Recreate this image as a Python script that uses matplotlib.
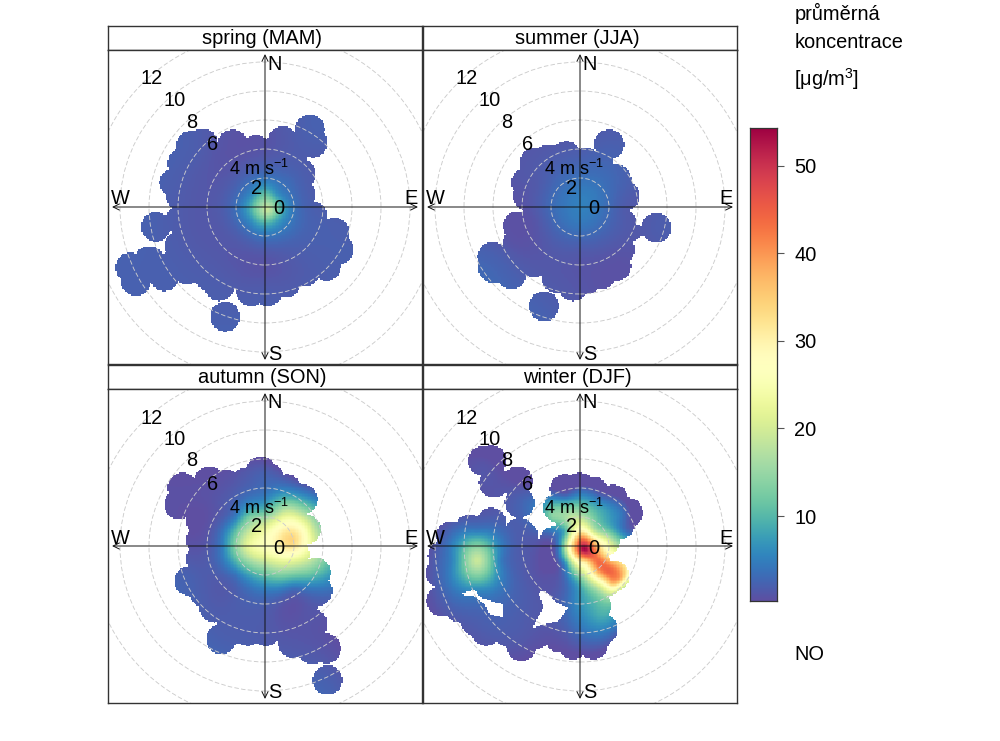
import numpy as np
import matplotlib
matplotlib.use("Agg")
import matplotlib.pyplot as plt
from matplotlib.path import Path
from matplotlib.colors import ListedColormap, Normalize
from matplotlib.patches import Circle

plt.rcParams['font.family'] = ['Liberation Sans', 'DejaVu Sans']
plt.rcParams['mathtext.default'] = 'regular'

# ---------- data (wind components in m/s, concentration in ug/m3) ----------
panel_titles = ["spring (MAM)", "summer (JJA)", "autumn (SON)", "winter (DJF)"]
ring_speeds = [2, 4, 6, 8, 10, 12]
ring_labels = ["2", "4 m s$^{-1}$", "6", "8", "10", "12"]
bar_ticks = [10, 20, 30, 40, 50]
value_min, value_max = 0.3, 54.3
spectral = ["#5E4FA2", "#3288BD", "#66C2A5", "#ABDDA4", "#E6F598", "#FFFFBF",
            "#FEE08B", "#FDAE61", "#F46D43", "#D53E4F", "#9E0142"]

# outline of the area with data
spring_edge_x = [3.10, 3.29, 2.48, 2.48, 3.29, 4.78, 5.06, 4.21, 2.8, 1.45, 0.18, -0.97, -3.15, -3.84, -5.4, -6.94, -8.90,
                 -9.29, -7.98, -5.91, -5.79, -5.79, -6.25, -5.68, -5.10, -4.30, -2.23, -0.62, 1.22]
spring_edge_y = [5.36, 4.44, 2.25, 0.87, -0.62, -1.77, -2.92, -4.07, -4.4, -5.22, -5.79, -5.79, -5.45, -4.76, -4.3, -4.76, -5.10,
                 -4.18, -3.72, -2.69, -0.85, 0.76, 1.68, 3.06, 4.21, 4.39, 4.32, 3.93, 4.55]
spring_lone_x = [-7.52, -2.74]
spring_lone_y = [-1.36, -7.56]

summer_edge_x = [2.00, 2.51, 3.08, 2.85, 5.26, 2.74, 2.51, 1.5, 0.44, -0.48, -1.63, -3.2, -4.74, -6.0, -6.05, -4.28, -4.28, -3.59,
                 -3.70, -3.13, -2.21, -0.94, 0.44]
summer_edge_y = [4.32, 1.91, 0.76, -1.08, -1.43, -2.92, -4.07, -4.6, -4.99, -5.45, -4.87, -3.8, -4.64, -4.2, -3.43, -2.46, -1.31, 0.76,
                 1.68, 3.06, 3.29, 3.52, 3.06]
summer_lone_x = [-2.48]
summer_lone_y = [-6.83]

autumn_edge_x = [-0.28, 0.30, 1.5, 2.60, 2.83, 2.02, 3.52, 3.63, 2.60, 3.29, 4.21, 3.29, 1.91, 0.07, -1.2, -2.46, -3.03,
                 -3.49, -4.2, -5.22, -4.41, -4.41, -4.41, -5.91, -5.68, -3.84, -2.69, -1.31]
autumn_edge_y = [5.17, 4.64, 3.9, 3.22, 1.15, -0.57, -1.84, -3.10, -4.25, -5.40, -7.08, -7.13, -6.67, -5.86, -5.86, -5.86, -6.44,
                 -4.25, -3.2, -2.41, -0.92, 0.4, 1.72, 2.87, 4.02, 4.48, 4.25, 4.37]
autumn_lone_x = [4.32]
autumn_lone_y = [-9.24]

winter_edge_x = [-0.02, 0.90, 2.28, 3.31, 2.74, 1.70, 2.39, 1.93, 0.21, 1.13, 1.59, 0.90, -0.48, -1.40, -3.01,
                 -4.05, -4.85, -6.46, -7.2, -8.30, -9.56, -9.61, -9.45, -8.87, -7.61, -6.11, -4.16, -3.93, -1.75, -1.52, -1.06]
winter_edge_y = [4.02, 3.79, 3.22, 2.30, 1.49, 0.34, -2.07, -2.41, -2.76, -4.14, -5.75, -6.78, -6.78, -6.32, -6.09,
                 -6.90, -5.98, -5.86, -5.2, -4.25, -3.79, -1.84, -0.69, 0.69, 1.15, 1.61, 0.92, 0.69, 0.34, 2.64, 3.91]
winter_nw_x = [-6.69, -6.11, -4.28, -4.16, -5.95]
winter_nw_y = [5.86, 5.91, 4.48, 2.99, 4.37]
winter_hole1_x = [-8.30, -7.26, -6.97, -6.34, -5.31, -5.31, -6.23, -6.57, -7.26]
winter_hole1_y = [-3.33, -2.99, -3.49, -3.72, -4.02, -4.94, -4.71, -4.02, -3.49]
winter_hole2_x = [-2.83, -2.44, -1.63, -0.83, -1.45, -2.44, -3.24, -3.01, -2.51]
winter_hole2_y = [-3.22, -3.10, -3.91, -4.25, -5.17, -5.40, -5.63, -5.06, -4.25]

# concentration readings
spring_x = [0.2, 1, 0, -1, 0, 0.8, -0.8, 0.8, -0.8, 2, 0, -2, 0, 1.5, -1.5, 1.5, -1.5, 4, 3, 0, -3, -4, -3, 0, 3, 3, 5, -9, -7, -7.5, -2.7, -4.5, -6, 0, -3]
spring_y = [-0.15, 0, 1, 0, -1, 0.8, 0.8, -0.8, -0.8, 0, 2, 0, -2, -1.5, 1.5, 1.5, -1.5, -1, -3, 4, 3, 0, -3, -4, 3, 5, -3, -4.5, -4, -1.4, -7.5, 3.8, 1.5, -5.7, -5]
spring_v = [19, 10.5, 10, 9, 10.5, 7, 7, 9, 8, 4, 4, 3.5, 4, 4, 3, 3.5, 3, 2, 1.9, 1, 0.9, 1.2, 1.2, 0.8, 1.6, 2, 2, 2.1, 2, 2, 2, 1.6, 1.7, 1.6, 1.6]

summer_x = [0.4, 0, -1, 1.5, -2, 2, -3, 3, 0, 0, -2.5, -3, 2.5, 0, -2.5, -4.5, -5.5, -2.5, 5.3, 2, -4]
summer_y = [0.6, -1, 0.5, 0, 0, 2, -1, 0, -3, 3.5, 3, 1.5, -3.5, -5, -4, -2.5, -3.5, -6.8, -1.4, 4.3, 2]
summer_v = [5, 4.5, 4.2, 3.8, 3, 3, 1.1, 1.6, 1.5, 2, 1.6, 1.4, 0.8, 1, 1.2, 0.8, 2, 2, 1.7, 2, 1.2]

autumn_x = [1.9, 0, 2.8, 3.2, 0, 0, -1, -2, -3, -4, -5, 0, 0, 0, 0, 1.5, 2.6, 2, 2.7, 2, 3, 3.5, 2, 1, -1, -2, -1, -2, -3, -5, -4, -2, 0, 2, 3, 4.3, -5, -1,
            -3, -3.5, -2, 0.5, 2.8]
autumn_y = [0.35, 0.3, 1.15, 1.0, -1.5, -3.2, 0, 0, 0, 0, 0, 1.5, 2.5, 3.5, 5, 2.5, 3, 3.8, 2, -1, -2, -2.8, -3, -2, -1.5, -2, 2, 2, 3, 3.5, -3, -6, -5, -5.5, -7, -9.2, -2, 4.5,
            -6.4, -5, -4, -6.4, -4.6]
autumn_v = [34, 26, 25, 21, 15, 4, 23, 14, 4.5, 1.3, 0.8, 20, 10, 4.5, 2.2, 18, 10, 5, 19, 22, 11, 5, 3, 13, 12, 4, 13, 5, 1.3, 0.6, 1.6, 1.8, 1.6, 0.9, 1.2, 2, 2, 2,
            2, 1.8, 1.8, 1.4, 1]

winter_x = [0.3, 0.7, 1.3, 1.84, 2.5, 2.76, 2.95, 0.1, 0.1, -0.35, -0.7, -1.4, -2.8, 0, 0, 0, 0, 1.4, -0.7, -2.8, -1.9, 1.6, 2.7, 3, 1.1, 1.8, 0.8,
            1.6, 2.07, 2.5, 2.76, 1.15, 2.3, 1.6, 0.4, 1.8, 0.9, -1, -1,
            -7.1, -8, -6.2, -7.1, -7.1, -8.7, -9.5, -7.1, -7.1, -5.5, -4.5, -3, -2, -3.5, -6, -8.5, -4, -1, 1.6, 1, -5, -6.5, -5, -4, -3,
            1.5, -1, 3]
winter_y = [-0.2, -0.5, -1.1, -1.8, -2.1, -2.3, -2.6, 0.6, 1.2, 0, -0.1, -0.1, -0.1, -1.4, -2.5, -3.7, 3.7, -3.4, 1.9, 2.1, 2.07, 2.5, 2.1, 1.1, 1.8, 0.3, -0.2,
            -0.44, -0.67, -1.1, -1.36, -1.93, -2.5, -2.5, -1.2, 1.1, 0.9, 1, -1.2,
            -1, -1, -1, 0.2, -2.2, -1, -1, 1, -3, -1, -1, -1, -2, -3.5, -5.5, -4, -6.5, -6, -4.8, -6.5, 1.5, 5.5, 4, 3, 0.5,
            3.5, 3.5, 2.5]
winter_v = [54, 48, 44, 44, 42, 38, 25, 40, 27, 38, 28, 6, 0.7, 24, 10, 7, 4, 14, 18, 6, 14, 8, 5, 4, 12, 24, 46,
            33, 30, 35, 36, 34, 38, 28, 30, 12, 22, 10, 7,
            19, 12, 12, 12, 12, 6, 3, 5, 6, 5, 2, 0.7, 0.7, 1.6, 2, 2.7, 1.3, 1.6, 9, 3, 2, 1, 1, 2.5, 1.3,
            2, 2.5, 3]

panels = [
    dict(edges=[(spring_edge_x, spring_edge_y)], lone=(spring_lone_x, spring_lone_y), holes=[], v=(spring_x, spring_y, spring_v)),
    dict(edges=[(summer_edge_x, summer_edge_y)], lone=(summer_lone_x, summer_lone_y), holes=[], v=(summer_x, summer_y, summer_v)),
    dict(edges=[(autumn_edge_x, autumn_edge_y)], lone=(autumn_lone_x, autumn_lone_y), holes=[], v=(autumn_x, autumn_y, autumn_v)),
    dict(edges=[(winter_edge_x, winter_edge_y), (winter_nw_x, winter_nw_y)], lone=([], []),
         holes=[(winter_hole1_x, winter_hole1_y), (winter_hole2_x, winter_hole2_y)], v=(winter_x, winter_y, winter_v)),
]

# ---------- helpers ----------
W, H = 1000, 741
PX_PER_MS = 14.5
BLOB_R = 1.03


def px_axes(fig, x0, y0, x1, y1):
    return fig.add_axes([x0 / W, 1 - y1 / H, (x1 - x0) / W, (y1 - y0) / H])


def spline_channel(y, t):
    n = len(y)
    A = np.zeros((n, n))
    b = np.zeros(n)
    A[0, 0] = A[-1, -1] = 1
    for i in range(1, n - 1):
        A[i, i - 1:i + 2] = [1, 4, 1]
        b[i] = 6 * (y[i - 1] - 2 * y[i] + y[i + 1])
    m = np.linalg.solve(A, b)
    i = np.clip(np.floor(t).astype(int), 0, n - 2)
    s = t - i
    return ((1 - s) * y[i] + s * y[i + 1]
            + ((1 - s) ** 3 - (1 - s)) * m[i] / 6 + (s ** 3 - s) * m[i + 1] / 6)


def spline_cmap(hexes):
    rgb = np.array([matplotlib.colors.to_rgb(h) for h in hexes])
    t = np.linspace(0, len(hexes) - 1, 512)
    cols = np.stack([spline_channel(rgb[:, k], t) for k in range(3)], axis=1)
    return ListedColormap(np.clip(cols, 0, 1))


def thin_plate(px, py, pv, gx, gy):
    px, py, pv = map(np.asarray, (px, py, pv))
    def phi(d2):
        return 0.5 * d2 * np.log(np.where(d2 > 0, d2, 1.0))
    d2 = (px[:, None] - px[None]) ** 2 + (py[:, None] - py[None]) ** 2
    P = np.column_stack([np.ones_like(px, dtype=float), px, py])
    n = len(px)
    M = np.zeros((n + 3, n + 3))
    M[:n, :n] = phi(d2)
    M[:n, n:] = P
    M[n:, :n] = P.T
    sol = np.linalg.solve(M, np.concatenate([pv, np.zeros(3)]))
    gxr, gyr = gx.ravel(), gy.ravel()
    dg = (gxr[:, None] - px[None]) ** 2 + (gyr[:, None] - py[None]) ** 2
    out = phi(dg) @ sol[:n] + sol[n] + sol[n + 1] * gxr + sol[n + 2] * gyr
    return out.reshape(gx.shape)


def data_mask(p, gx, gy):
    pts = np.column_stack([gx.ravel(), gy.ravel()])
    keep = np.zeros(len(pts), bool)
    for ex, ey in p['edges']:
        ex, ey = np.asarray(ex), np.asarray(ey)
        keep |= Path(np.column_stack([ex, ey])).contains_points(pts)
        for cx, cy in zip(ex, ey):
            keep |= (pts[:, 0] - cx) ** 2 + (pts[:, 1] - cy) ** 2 <= BLOB_R ** 2
    for cx, cy in zip(*p['lone']):
        keep |= (pts[:, 0] - cx) ** 2 + (pts[:, 1] - cy) ** 2 <= BLOB_R ** 2
    for hx, hy in p['holes']:
        keep &= ~Path(np.column_stack([hx, hy])).contains_points(pts)
    return keep.reshape(gx.shape)


# ---------- figure ----------
fig = plt.figure(figsize=(W / 100, H / 100), dpi=100, facecolor='white')
cmap = spline_cmap(spectral)
norm = Normalize(value_min, value_max)
FS = 14.4
FRAME = '#333333'
lim = 157 / PX_PER_MS
edges = np.arange(-lim, lim + 0.1, 0.1)
cent = 0.5 * (edges[:-1] + edges[1:])
gx, gy = np.meshgrid(cent, cent)

lefts = [108, 423]
tops = [26, 365]
label_off = {"2": (-8, 19), "4 m s$^{-1}$": (-6, 38), "6": (-52, 62), "8": (-73, 85), "10": (-90, 106), "12": (-113, 128)}

for i, p in enumerate(panels):
    x0 = lefts[i % 2]
    s0 = tops[i // 2]
    strip = px_axes(fig, x0, s0, x0 + 314, s0 + 24)
    strip.set_xticks([]); strip.set_yticks([])
    for sp in strip.spines.values():
        sp.set_color(FRAME); sp.set_linewidth(1)
    strip.text(0.492, 0.47, panel_titles[i], ha='center', va='center', fontsize=FS, transform=strip.transAxes)

    ax = px_axes(fig, x0, s0 + 24, x0 + 314, s0 + 338)
    ax.set_xlim(-lim, lim); ax.set_ylim(-lim, lim)
    ax.set_xticks([]); ax.set_yticks([])
    for sp in ax.spines.values():
        sp.set_color(FRAME); sp.set_linewidth(1)

    field = thin_plate(*p['v'], gx, gy)
    field = np.clip(field, value_min, value_max)
    ax.pcolormesh(edges, edges, np.ma.masked_where(~data_mask(p, gx, gy), field),
                  cmap=cmap, norm=norm, shading='flat', zorder=1, rasterized=True)

    for r in ring_speeds:
        ax.add_patch(Circle((0, 0), r, fill=False, ec='#CCCCCC', lw=0.65, ls=(0, (5, 2.5)), zorder=2))

    arrow = dict(arrowstyle='<->,head_length=0.45,head_width=0.22', color='#111111', lw=0.7, shrinkA=0, shrinkB=0)
    ax.annotate('', xy=(-10.55, 0), xytext=(10.55, 0), arrowprops=arrow, zorder=3)
    ax.annotate('', xy=(0, -10.55), xytext=(0, 10.55), arrowprops=arrow, zorder=3)

    for name, dx, dy in [('N', 10, 143), ('S', 10, -147), ('W', -145, 8), ('E', 146, 8), ('0', 14, -2)]:
        ax.text(dx / PX_PER_MS, dy / PX_PER_MS, name, ha='center', va='center', fontsize=FS, color='black', zorder=4)
    for lab in ring_labels:
        dx, dy = label_off[lab]
        ax.text(dx / PX_PER_MS, dy / PX_PER_MS, lab, ha='center', va='center',
                fontsize=13 if 'm s' in lab else FS, color='black', zorder=4)

# colour bar
cax = px_axes(fig, 750, 128, 777, 601)
grad = np.linspace(value_min, value_max, 512)[:, None]
cax.imshow(grad, origin='lower', aspect='auto', cmap=cmap, norm=norm, extent=[0, 1, value_min, value_max])
cax.set_xticks([])
cax.yaxis.tick_right()
cax.set_yticks(bar_ticks)
cax.set_yticklabels([str(t) for t in bar_ticks], fontsize=FS)
cax.tick_params(axis='y', length=5, width=0.8, color='#555555', pad=7.5)
for sp in cax.spines.values():
    sp.set_color(FRAME); sp.set_linewidth(0.9)

for txt, y in [("průměrná", 13.5), ("koncentrace", 43), ("[μg/m$^{3}$]", 79.5), ("NO", 654)]:
    fig.text(794.5 / W, 1 - y / H, txt, ha='left', va='center', fontsize=FS)

fig.savefig("out.png", dpi=100)
